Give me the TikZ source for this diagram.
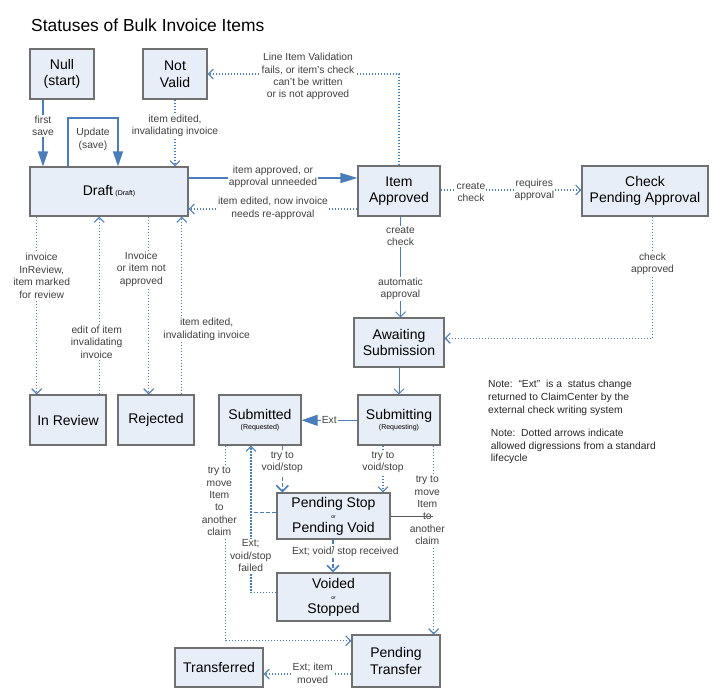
\documentclass[tikz,border=0pt]{standalone}
\usepackage{fontspec}
\setmainfont{Liberation Sans}
\usetikzlibrary{arrows.meta}
\definecolor{lnblue}{HTML}{4A7EBB}
\definecolor{boxfill}{HTML}{E8EEF7}
\definecolor{boxline}{HTML}{707070}
\definecolor{lbltext}{HTML}{404040}
\definecolor{grayln}{HTML}{595959}
\begin{document}
\begin{tikzpicture}[x=1pt,y=-1pt,
  box/.style={draw=boxline, fill=boxfill, line width=1.1pt, align=center, inner sep=0pt,
    font=\fontsize{14}{16.5}\selectfont, text=black},
  lbl/.style={fill=white, inner sep=1pt, align=center, font=\fontsize{10.3}{12.4}\selectfont, text=lbltext},
  notetext/.style={inner sep=0pt, align=left, font=\fontsize{10.3}{12.6}\selectfont, text=black!85, anchor=north west},
  solidarr/.style={draw=lnblue, line width=1.3pt, -{Triangle[length=15pt,width=10pt]}},
  extarr/.style={draw=lnblue, line width=1pt, -{Triangle[length=16pt,width=11pt]}},
  thinarr/.style={draw=lnblue, line width=1pt, -{Straight Barb[length=5pt,width=10pt]}},
  dotarr/.style={draw=lnblue, line width=1.1pt, dash pattern=on 1.5pt off 1.5pt, -{Straight Barb[length=5pt,width=10pt]}},
  dasharr/.style={draw=lnblue, line width=1.6pt, dash pattern=on 4pt off 2.2pt, -{Straight Barb[length=6pt,width=12pt]}},
  dashln/.style={draw=lnblue, line width=1.6pt, dash pattern=on 4pt off 2.2pt},
  grayline/.style={draw=grayln, line width=0.8pt}
]
\useasboundingbox (0,0) rectangle (723,697);

% title
\node[anchor=base west, inner sep=0pt, font=\fontsize{17.4}{20}\selectfont] (title) at (31,31.7) {Statuses of Bulk Invoice Items};

% boxes
\node[box, minimum width=64pt, minimum height=50pt] (null) at (62,74) {Null\\(start)};
\node[box, minimum width=64pt, minimum height=50pt] (notvalid) at (175,74) {Not\\Valid};
\node[box, minimum width=158pt, minimum height=49pt] (draft) at (109,191.5) {Draft\,{\fontsize{7}{8}\selectfont (Draft)}};
\node[box, minimum width=82pt, minimum height=50pt] (approved) at (399,191) {Item\\Approved};
\node[box, minimum width=126pt, minimum height=50pt] (checkpend) at (645,191) {Check\\Pending Approval};
\node[box, minimum width=90pt, minimum height=49pt] (awaiting) at (399,342.5) {Awaiting\\Submission};
\node[box, minimum width=76pt, minimum height=50pt] (inreview) at (68,420) {In Review};
\node[box, minimum width=76pt, minimum height=50pt] (rejected) at (156,420) {Rejected};
\node[box, minimum width=82pt, minimum height=50pt] (submitted) at (260,420) {Submitted\\[-6pt]{\fontsize{7}{8}\selectfont (Requested)}};
\node[box, minimum width=82pt, minimum height=50pt] (submitting) at (399,420) {Submitting\\[-6pt]{\fontsize{7}{8}\selectfont (Requesting)}};
\node[box, minimum width=113pt, minimum height=46pt] (pendstop) at (333.5,516) {Pending Stop\\[-5pt]{\fontsize{5}{6}\selectfont or}\\[-3pt]Pending Void};
\node[box, minimum width=113pt, minimum height=48pt] (voided) at (333.5,597) {Voided\\[-5pt]{\fontsize{5}{6}\selectfont or}\\[-3pt]Stopped};
\node[box, minimum width=88pt, minimum height=52pt] (pendtrans) at (396,661) {Pending\\Transfer};
\node[box, minimum width=88pt, minimum height=39pt] (transferred) at (219,667.5) {Transferred};

% connectors
\draw[solidarr] (43,0 |- null.south) -- (43,0 |- draft.north);
\draw[solidarr] (68,0 |- draft.north) -- (68,118) -- (118,118) -- (118,0 |- draft.north);
\draw[dotarr] (175,0 |- notvalid.south) -- (175,0 |- draft.north);
\draw[dotarr] (399,0 |- approved.north) |- (notvalid.east);
\draw[solidarr, -{Triangle[length=17pt,width=10pt]}] (draft.east |- 0,178) -- (approved.west |- 0,178);
\draw[dotarr] (approved.west |- 0,209) -- (draft.east |- 0,209);
\draw[dotarr] (approved.east |- 0,190) -- (checkpend.west |- 0,190);
\draw[thinarr] (400.5,0 |- approved.south) -- (400.5,0 |- awaiting.north);
\draw[dotarr] (652.7,0 |- checkpend.south) |- (awaiting.east |- 0,338.3);
\draw[dotarr] (36.7,0 |- draft.south) -- (36.7,0 |- inreview.north);
\draw[dotarr] (99.3,0 |- inreview.north) -- (99.3,0 |- draft.south);
\draw[dotarr] (148.7,0 |- draft.south) -- (148.7,0 |- rejected.north);
\draw[dotarr] (181.7,0 |- rejected.north) -- (181.7,0 |- draft.south);
\draw[thinarr] (399,0 |- awaiting.south) -- (399,0 |- submitting.north);
\draw[extarr] (submitting.west |- 0,420.3) -- (submitted.east |- 0,420.3);
\draw[dasharr] (282.3,0 |- submitted.south) -- (282.3,0 |- pendstop.north);
\coordinate (junction) at (251,512.3);
\draw[dashln] (pendstop.west |- junction) -- (junction);
\draw[dotarr] (voided.west |- 0,592.3) -| (251,0 |- submitted.south);
\draw[dotarr] (383,0 |- submitting.south) -- (383,0 |- pendstop.north);
\draw[dotarr] (433.7,0 |- submitting.south) -- (433.7,0 |- pendtrans.north);
\draw[dotarr] (225.7,0 |- submitted.south) |- (pendtrans.west |- 0,640.7);
\draw[dasharr] (333,0 |- pendstop.south) -- (333,0 |- voided.north);
\draw[dotarr] (pendtrans.west |- 0,674) -- (transferred.east |- 0,674);

% labels
\node[lbl] (l1) at (43,126) {first\\save};
\node[lbl] (l2) at (93,139.5) {Update\\(save)};
\node[lbl] (l3) at (175,126) {item edited,\\invalidating invoice};
\node[lbl] (l4) at (308,76.7) {Line Item Validation\\fails, or item's check\\can't be written\\or is not approved};
\node[lbl] (l5) at (273,177) {item approved, or\\approval unneeded};
\node[lbl] (l6) at (273,208.5) {item edited, now invoice\\needs re-approval};
\node[lbl] (l7) at (471,192) {create\\check};
\node[lbl] (l8) at (534.3,189.7) {requires\\approval};
\node[lbl] (l9) at (400.5,236.3) {create\\check};
\node[lbl] (l10) at (400.5,289) {automatic\\approval};
\node[lbl] (l11) at (652.5,263.7) {check\\approved};
\node[lbl] (l12) at (41.7,275.8) {invoice\\InReview,\\item marked\\for review};
\node[lbl] (l13) at (96.7,342) {edit of item\\invalidating\\invoice};
\node[lbl] (l14) at (141.3,269) {Invoice\\or item not\\approved};
\node[lbl] (l15) at (206.7,329.3) {item edited,\\invalidating invoice};
\node[lbl] (l16) at (329.3,420.3) {Ext};
\node[lbl] (l17) at (282.3,462) {try to\\void/stop};
\node[lbl] (l18) at (383,462) {try to\\void/stop};
\node[lbl] (l19) at (219.3,501.5) {try to\\move\\Item\\to\\another\\claim};
\node[lbl] (l20) at (427.3,510.5) {try to\\move\\Item\\to\\another\\claim};
\node[lbl] (l21) at (250.7,555.8) {Ext;\\void/stop\\failed};
\node[lbl] (l22) at (345.3,552.3) {Ext; void/ stop received};
\node[lbl] (l23) at (312.7,673.3) {Ext; item\\moved};

\coordinate (grayend) at (433,516.3);
\draw[grayline] (pendstop.east |- grayend) -- (grayend);

% notes
\node[notetext] (note1) at (488,380.3) {Note:\ \ “Ext”\ \ is a\ \ status change\\returned to ClaimCenter by the\\external check writing system};
\node[notetext] (note2) at (490.7,429) {Note:\ \ Dotted arrows indicate\\allowed digressions from a standard\\lifecycle};
\end{tikzpicture}
\end{document}
